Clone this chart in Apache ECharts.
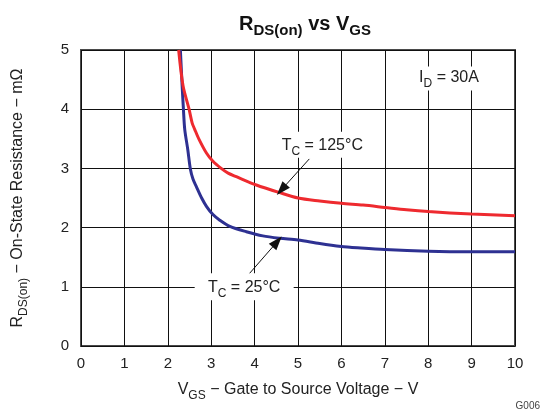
<!DOCTYPE html>
<html>
<head>
<meta charset="utf-8">
<script src="https://cdn.jsdelivr.net/npm/echarts@6/dist/echarts.min.js"></script>
<style>
  html, body { margin: 0; padding: 0; background: #fff; }
  #chart { width: 543px; height: 409px; }
</style>
</head>
<body>
<div id="chart"></div>
<script>
// Gate voltage (V) and on-resistance (mΩ) at Tc = 125 °C
const vgsHot = [2.25, 2.35, 2.49, 2.56, 2.62, 2.72, 2.89, 3.04, 3.23, 3.39, 3.58, 4.04, 4.58, 5.0, 5.5, 6.0, 6.5, 7.0, 7.5, 8.0, 9.0, 10.0];
const rdsHot = [5.0, 4.4, 4.0, 3.77, 3.66, 3.49, 3.26, 3.12, 3.0, 2.92, 2.86, 2.72, 2.59, 2.5, 2.45, 2.41, 2.38, 2.34, 2.3, 2.27, 2.23, 2.2];

// Gate voltage (V) and on-resistance (mΩ) at Tc = 25 °C
const vgsCold = [2.29, 2.33, 2.36, 2.39, 2.46, 2.52, 2.58, 2.66, 2.78, 2.89, 3.04, 3.19, 3.43, 3.81, 4.19, 4.58, 5.0, 5.5, 6.0, 6.2, 7.0, 8.0, 9.0, 10.0];
const rdsCold = [5.0, 4.4, 4.0, 3.66, 3.32, 2.99, 2.82, 2.69, 2.5, 2.36, 2.22, 2.13, 2.02, 1.93, 1.86, 1.82, 1.79, 1.73, 1.68, 1.67, 1.63, 1.6, 1.59, 1.59];

// Axis ticks
const xTicks = [0, 1, 2, 3, 4, 5, 6, 7, 8, 9, 10];
const yTicks = [0, 1, 2, 3, 4, 5];

const FONT = '"Liberation Sans", Arial, sans-serif';
const pairs = (xs, ys) => xs.map((x, i) => [x, ys[i]]);

// Rich-text styles: normal text hangs from the top of a tall line box,
// subscripts sit at its bottom, which lowers them below the baseline.
const richPair = (size, subSize, lh, subLh, extra) => ({
  m: Object.assign({ fontSize: size, fontFamily: FONT, color: '#222', lineHeight: lh, verticalAlign: 'top' }, extra || {}),
  s: Object.assign({ fontSize: subSize, fontFamily: FONT, color: '#222', lineHeight: subLh, verticalAlign: 'bottom' }, extra || {})
});

const boxLabel = (text, w, h, dy) => ({
  symbol: 'rect',
  symbolSize: [w, h],
  itemStyle: { color: '#fff' },
  label: {
    show: true,
    position: 'inside',
    offset: [0, dy],
    formatter: text,
    rich: richPair(16, 12, 20, 9)
  }
});

const arrow = (from, to) => [
  { coord: from, symbol: 'none', symbolSize: 0 },
  { coord: to, symbol: 'triangle', symbolSize: [10, 14] }
];

const chart = echarts.init(document.getElementById('chart'), null, { renderer: 'canvas' });
chart.setOption({
  animation: false,
  backgroundColor: '#fff',
  title: {
    text: '{m|R}{s|DS(on)}{m| vs V}{s|GS}',
    left: 234,
    top: 9,
    textStyle: {
      rich: richPair(20, 15, 24, 12, { fontWeight: 'bold', color: '#111' })
    }
  },
  grid: {
    left: 81, top: 50, width: 434, height: 296,
    show: true, borderColor: '#4a4a4a', borderWidth: 2, backgroundColor: 'transparent'
  },
  xAxis: {
    type: 'value', min: xTicks[0], max: xTicks[xTicks.length - 1], interval: 1,
    name: '{m|V}{s|GS}{m| − Gate to Source Voltage − V}',
    nameLocation: 'middle', nameGap: 36,
    nameTextStyle: { rich: richPair(16, 12, 20, 9) },
    axisLine: { show: false }, axisTick: { show: false },
    axisLabel: { fontSize: 15, fontFamily: FONT, color: '#222', margin: 10 },
    splitLine: { show: true, lineStyle: { color: '#111', width: 1 } }
  },
  yAxis: {
    type: 'value', min: yTicks[0], max: yTicks[yTicks.length - 1], interval: 1,
    name: '{m|R}{s|DS(on)}{m| − On-State Resistance − mΩ}',
    nameLocation: 'middle', nameGap: 51, nameRotate: 90,
    nameTextStyle: { rich: richPair(16, 12, 20, 9) },
    axisLine: { show: false }, axisTick: { show: false },
    axisLabel: { fontSize: 15, fontFamily: FONT, color: '#222', margin: 12 },
    splitLine: { show: true, lineStyle: { color: '#111', width: 1 } }
  },
  graphic: [{
    type: 'text', right: 3, bottom: -2,
    style: { text: 'G006', fontSize: 10, fontFamily: FONT, fill: '#444' }
  }],
  series: [
    {
      name: 'Tc = 25°C', type: 'line', smooth: 0.3, showSymbol: false,
      data: pairs(vgsCold, rdsCold),
      lineStyle: { color: '#2e3192', width: 3 }, itemStyle: { color: '#2e3192' },
      markPoint: {
        silent: true,
        data: [Object.assign({ coord: [3.76, 1.0] }, boxLabel('{m|T}{s|C}{m| = 25°C}', 99, 27, 3))]
      },
      markLine: {
        silent: true,
        label: { show: false },
        itemStyle: { color: '#111' },
        lineStyle: { color: '#111', width: 1, type: 'solid' },
        data: [arrow([3.87, 1.215], [4.52, 1.76])]
      }
    },
    {
      name: 'Tc = 125°C', type: 'line', smooth: 0.3, showSymbol: false,
      data: pairs(vgsHot, rdsHot),
      lineStyle: { color: '#ee2a2f', width: 3 }, itemStyle: { color: '#ee2a2f' },
      markPoint: {
        silent: true,
        data: [
          Object.assign({ coord: [5.56, 3.40] }, boxLabel('{m|T}{s|C}{m| = 125°C}', 95, 26, 3)),
          Object.assign({ coord: [8.48, 4.52] }, boxLabel('{m|I}{s|D}{m| = 30A}', 78, 24, 1.5))
        ]
      },
      markLine: {
        silent: true,
        label: { show: false },
        itemStyle: { color: '#111' },
        lineStyle: { color: '#111', width: 1, type: 'solid' },
        data: [arrow([5.26, 3.16], [4.62, 2.64])]
      }
    }
  ]
});
</script>
</body>
</html>
